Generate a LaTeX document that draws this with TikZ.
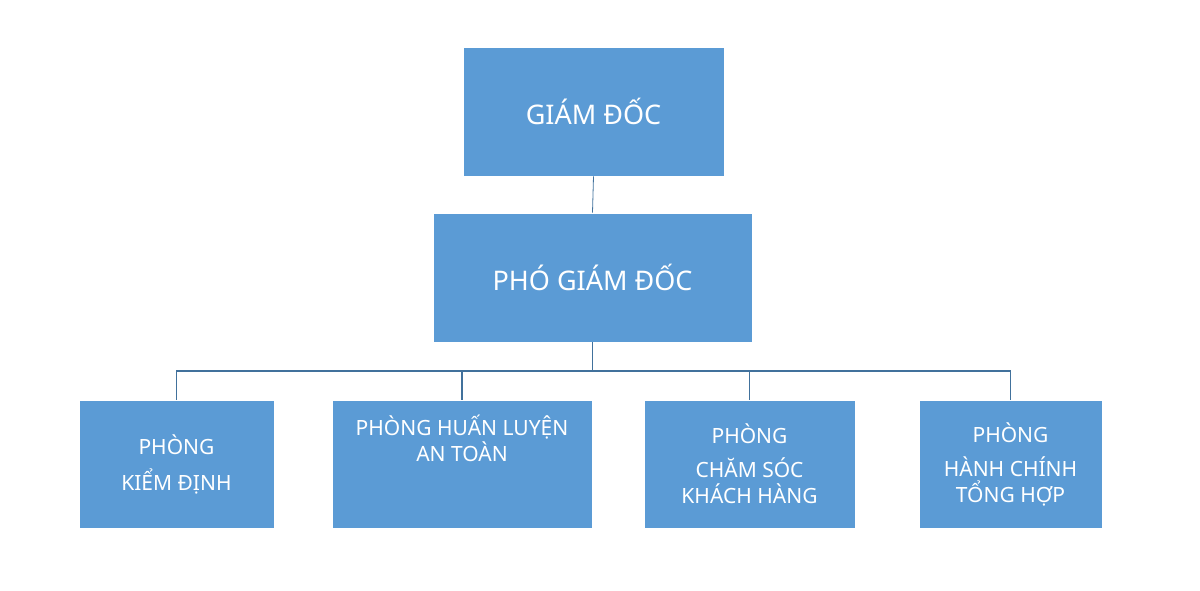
\documentclass[tikz,border=0pt]{standalone}
\usepackage{fontspec}
\setmainfont{Noto Sans}
\definecolor{boxblue}{HTML}{5B9BD5}
\definecolor{lineblue}{HTML}{41719C}
\begin{document}
\begin{tikzpicture}[x=1pt,y=-1pt,
  box/.style={fill=boxblue,draw=white,line width=0.8pt,inner sep=0pt,text=white,align=center,font=\fontsize{21}{26}\selectfont},
  big/.style={box,font=\fontsize{27}{32}\selectfont},
  conn/.style={draw=lineblue,line width=1.8pt}]
\useasboundingbox (0,0) rectangle (1200,590);
\node[big,minimum width=261pt,minimum height=129pt] (gd) at (593.5,111.5) {GIÁM ĐỐC};
\node[big,minimum width=319pt,minimum height=129pt] (pgd) at (592.5,277.5) {PHÓ GIÁM ĐỐC};
\node[box,minimum width=195pt,minimum height=128pt] (b1) at (176.5,464) {PHÒNG\\[10pt]KIỂM ĐỊNH};
\node[box,minimum width=260pt,minimum height=128pt] (b2) at (462,464) {PHÒNG HUẤN LUYỆN\\AN TOÀN\\[26pt]};
\node[box,minimum width=211pt,minimum height=128pt] (b3) at (749.5,464) {PHÒNG\\[8pt]CHĂM SÓC\\KHÁCH HÀNG};
\node[box,minimum width=183pt,minimum height=128pt] (b4) at (1010.5,464) {PHÒNG\\[8pt]HÀNH CHÍNH\\TỔNG HỢP};
\draw[draw=lineblue,line width=0.8pt] (gd.south) -- (pgd.north);
\coordinate (j) at (592.5,371);
\draw[conn] (pgd.south) -- (j);
\draw[conn] (b1.north) |- (j) -| (b4.north);
\draw[conn] (b2.north) -- (b2.north |- j);
\draw[conn] (b3.north) -- (b3.north |- j);
\end{tikzpicture}
\end{document}
